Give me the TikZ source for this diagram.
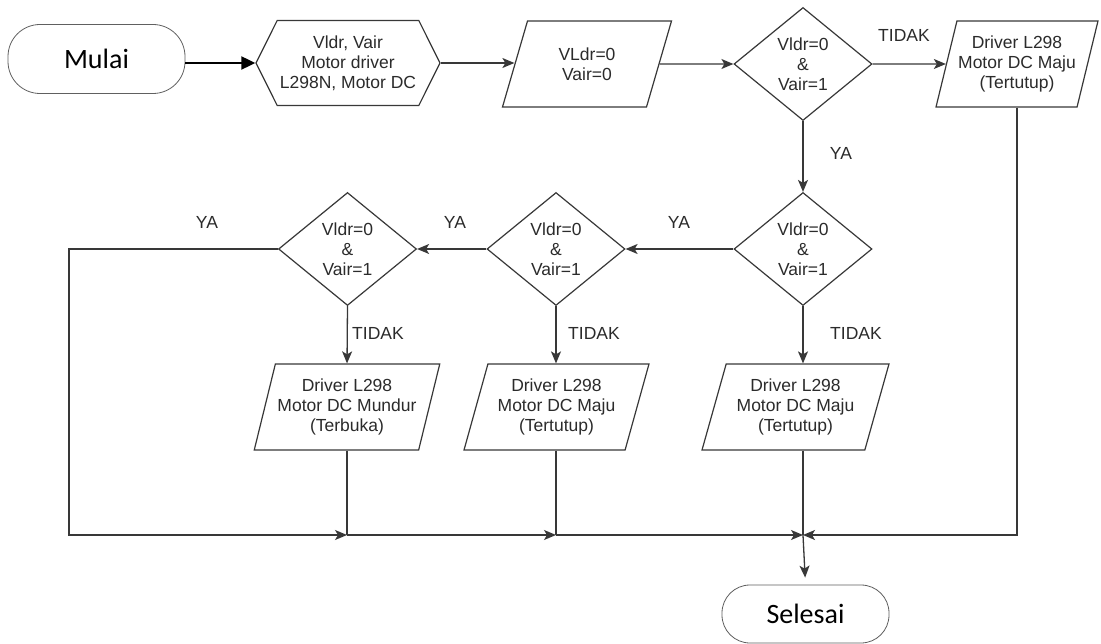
\documentclass[tikz,border=0pt]{standalone}
\usepackage{fontspec}
\setmainfont{Liberation Sans}
\newfontfamily\calfont{Carlito}
\usetikzlibrary{shapes.geometric,shapes.symbols,arrows.meta,calc}
\definecolor{linec}{HTML}{383838}
\definecolor{txt}{HTML}{2B2B2B}
\begin{document}
\begin{tikzpicture}[x=1pt,y=-1pt,
  base/.style={draw=linec, line width=1.2pt, text=txt, font=\fontsize{17.5}{20}\selectfont, align=center, inner sep=0pt},
  term/.style={draw=linec!80, line width=0.8pt, font=\calfont\fontsize{28}{32}\selectfont, text=black, inner sep=0pt},
  dec/.style={base, diamond, minimum width=138pt, minimum height=113pt},
  io/.style={base, trapezium, trapezium left angle=70, trapezium right angle=110, trapezium stretches=true, minimum height=86pt},
  prep/.style={base, signal, signal to=west and east, signal pointer angle=127, minimum width=184pt, minimum height=85pt},
  conn/.style={draw=linec, line width=1.3pt},
  arr/.style={-{Stealth[length=12pt,width=10pt,inset=3pt]}},
  lbl/.style={text=txt, font=\fontsize{17.5}{20}\selectfont, inner sep=0pt}
]
\fill[white,use as bounding box] (0,0) rectangle (1101,644);

\node[term, rounded corners=32pt, minimum width=177pt, minimum height=69pt] (mulai) at (96.5,59) {Mulai};
\node[prep] (hex) at (348,63) {Vldr, Vair\\Motor driver\\L298N, Motor DC};
\node[io, minimum width=170pt] (p1) at (587,64) {VLdr=0\\Vair=0};
\node[dec] (d1) at (803,64) {Vldr=0\\\&\\Vair=1};
\node[io, minimum width=162pt] (p2) at (1017,64) {Driver L298\\Motor DC Maju\\(Tertutup)};
\node[dec] (d2) at (803,249) {Vldr=0\\\&\\Vair=1};
\node[dec] (d3) at (556,249) {Vldr=0\\\&\\Vair=1};
\node[dec] (d4) at (347.5,249) {Vldr=0\\\&\\Vair=1};
\node[io, minimum width=186pt] (p4) at (347,407) {Driver L298\\Motor DC Mundur\\(Terbuka)};
\node[io, minimum width=185pt] (p3) at (556.5,407) {Driver L298\\Motor DC Maju\\(Tertutup)};
\node[io, minimum width=187pt] (p5) at (795.5,407) {Driver L298\\Motor DC Maju\\(Tertutup)};
\node[term, rounded corners=28pt, minimum width=167pt, minimum height=58pt] (sel) at (805.5,614) {Selesai};

\node[lbl] (t1) at (904,35) {TIDAK};
\node[lbl] (y1) at (841,153) {YA};
\node[lbl] (y2) at (679,222) {YA};
\node[lbl] (y3) at (455,222) {YA};
\node[lbl] (y4) at (207,222) {YA};
\node[lbl] (t4) at (378,333) {TIDAK};
\node[lbl] (t3) at (594,333) {TIDAK};
\node[lbl] (t2) at (856,333) {TIDAK};

\coordinate (cLB) at (69,535);
\path (p4.south |- cLB) coordinate (j4)
      (d3.south |- cLB) coordinate (j3)
      (d2.south |- cLB) coordinate (j5);

\draw[line width=2pt, black, -{Triangle[length=14pt,width=13pt]}] (mulai.east |- hex.west) -- (hex.west);
\draw[conn,arr] (hex.east) -- (hex.east -| p1.west);
\draw[conn,arr] (p1.east) -- (d1.west);
\draw[conn,arr] (d1.east) -- (p2.west);
\draw[conn,arr] (d1.south) -- (d2.north);
\draw[conn,arr] (d2.west) -- (d3.east);
\draw[conn,arr] (d3.west) -- (d4.east);
\draw[conn,arr] (d4.south) -- (p4.north);
\draw[conn,arr] (d3.south) -- (d3.south |- p3.north);
\draw[conn,arr] (d2.south) -- (d2.south |- p5.north);
\draw[conn,arr] (d4.west) -| (cLB) -- (j4);
\draw[conn] (p4.south) -- (j4);
\draw[conn,arr] (j4) -- (j3);
\draw[conn] (d3.south |- p3.south) -- (j3);
\draw[conn,arr] (j3) -- (j5);
\draw[conn] (d2.south |- p5.south) -- (j5);
\draw[conn,arr] (p2.south) |- (j5);
\draw[conn,arr,shorten >=7pt] (j5) -- (sel.north);
\end{tikzpicture}
\end{document}
